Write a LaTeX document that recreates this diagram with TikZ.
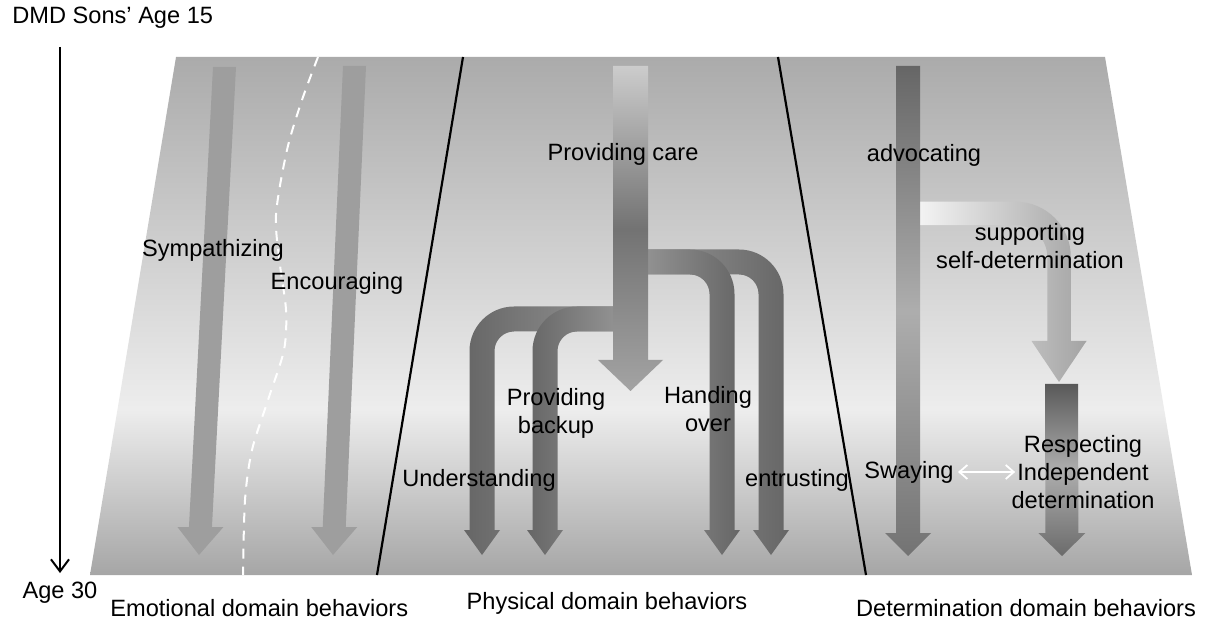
\documentclass[tikz,border=0pt]{standalone}
\usepackage{fontspec}
\setmainfont{Liberation Sans}
\usetikzlibrary{arrows.meta}

\pgfdeclareverticalshading{bgshade}{100bp}{color(0bp)=(black!35); color(25bp)=(black!35); color(41bp)=(black!7); color(75bp)=(black!33); color(100bp)=(black!33)}

% straight fat arrow: style, top x, top y, tip x, tip y, head base y, half shaft, half head
\newcommand{\fatarrow}[8]{%
  \pgfmathsetmacro{\fbx}{#4+(#2-#4)*(#5-#6)/(#5-#3)}
  \path[#1] ({#2-#7},#3) -- ({#2+#7},#3) -- ({\fbx+#7},#6) -- ({\fbx+#8},#6) -- (#4,#5)
    -- ({\fbx-#8},#6) -- ({\fbx-#7},#6) -- cycle;}

% bent fat arrow: style, start x, band y, drop x, head base y, tip y, direction
\newcommand{\bentarrow}[7]{%
  \path[#1] (#2,{#3-\bandw}) -- ({#4-(#7)*\bandr},{#3-\bandw})
    .. controls ({#4-(#7)*\bandr+(#7)*0.55*(\bandr+\bandw)},{#3-\bandw}) and ({#4+(#7)*\bandw},{#3+\bandr-0.55*(\bandr+\bandw)}) .. ({#4+(#7)*\bandw},{#3+\bandr})
    -- ({#4+(#7)*\bandw},#5) -- ({#4+(#7)*\headw},#5) -- (#4,#6) -- ({#4-(#7)*\headw},#5) -- ({#4-(#7)*\bandw},#5)
    -- ({#4-(#7)*\bandw},{#3+\bandr})
    .. controls ({#4-(#7)*\bandw},{#3+\bandr-0.55*(\bandr-\bandw)}) and ({#4-(#7)*\bandr+(#7)*0.55*(\bandr-\bandw)},{#3+\bandw}) .. ({#4-(#7)*\bandr},{#3+\bandw})
    -- (#2,{#3+\bandw}) -- cycle;}

\tikzset{
  lbl/.style={font=\fontsize{11.8}{14}\selectfont, inner sep=0pt, align=center},
  emo/.style={fill=black!38},
  divider/.style={line width=1.1pt},
  border/.style={white, line width=1pt, dash pattern=on 5pt off 4pt},
  timeline/.style={line width=1pt, -{Straight Barb[length=6pt,width=9pt]}},
  swaymark/.style={white, line width=0.9pt, {Straight Barb[length=4pt,width=7pt]}-{Straight Barb[length=4pt,width=7pt]}}
}

\begin{document}
\begin{tikzpicture}[x=0.5pt,y=-0.5pt]
\useasboundingbox (0,0) rectangle (1206,620);
% background and domains
\shade[shading=bgshade] (176,57) -- (1105,57) -- (1192,575) -- (90,575) -- cycle;
\draw[border] plot[smooth] coordinates {(318,57) (302,100) (287,150) (276,215) (280,265) (286,310) (284,350) (268,400) (252,450) (245,500) (243,575)};
\draw[divider] (463,57) -- (377,575);
\draw[divider] (778,57) -- (866,575);

% emotional
\fatarrow{emo}{224.5}{67}{199}{555}{527}{11.5}{23}
\fatarrow{emo}{354.5}{66}{333}{555}{527}{11.5}{23}

% physical
\def\bandw{12.5}\def\bandr{32}\def\headw{18}
\bentarrow{left color=black!40, right color=black!60}{630}{262}{771}{530}{555}{1}
\bentarrow{left color=black!40, right color=black!60}{630}{262}{722}{530}{555}{1}
\bentarrow{left color=black!60, right color=black!40}{630}{319}{482}{530}{555}{-1}
\bentarrow{left color=black!60, right color=black!40}{630}{319}{545}{530}{555}{-1}
\fatarrow{top color=black!20, bottom color=black!36, middle color=black!55}{630.5}{66}{630.5}{391}{360}{17.5}{32.5}

% determination
\def\bandw{11.75}\def\bandr{43}\def\headw{27.5}
\bentarrow{left color=black!4, right color=black!36}{916}{213.5}{1059}{341}{382}{1}
\fatarrow{top color=black!60, bottom color=black!55, middle color=black!32}{908}{66}{908}{556}{533}{12}{23}
\fatarrow{top color=black!65, bottom color=black!58, middle color=black!32}{1061.5}{384}{1062}{556}{533}{16.5}{23.5}

% labels
\node[lbl, anchor=west] (dmd) at (12,18) {DMD Sons' Age 15};
\node[lbl] (age30) at (60,593) {Age 30};
\node[lbl, anchor=west] (emotional) at (110,608) {Emotional domain behaviors};
\node[lbl] (physical) at (607,603) {Physical domain behaviors};
\node[lbl] (determ) at (1026,608) {Determination domain behaviors};
\node[lbl] (sympathizing) at (213,250) {Sympathizing};
\node[lbl] (encouraging) at (337,283) {Encouraging};
\node[lbl] (care) at (623,154) {Providing care};
\node[lbl] (backup) at (556,413) {Providing\\backup};
\node[lbl] (handing) at (708,409) {Handing\\over};
\node[lbl] (understanding) at (479,480) {Understanding};
\node[lbl] (entrusting) at (797,480) {entrusting};
\node[lbl] (advocating) at (924,155) {advocating};
\node[lbl] (supporting) at (1030,246) {supporting\\self-determination};
\node[lbl] (swaying) at (909,472) {Swaying};
\node[lbl] (respecting) at (1083,472) {Respecting\\Independent\\determination};
\draw[swaymark, shorten <=2pt, shorten >=-2pt] (swaying.east) -- (respecting.west);

% time axis
\coordinate (t0) at (60,47);
\coordinate (t1) at (60,573);
\draw[timeline] (t0) -- (t1);
\end{tikzpicture}
\end{document}
